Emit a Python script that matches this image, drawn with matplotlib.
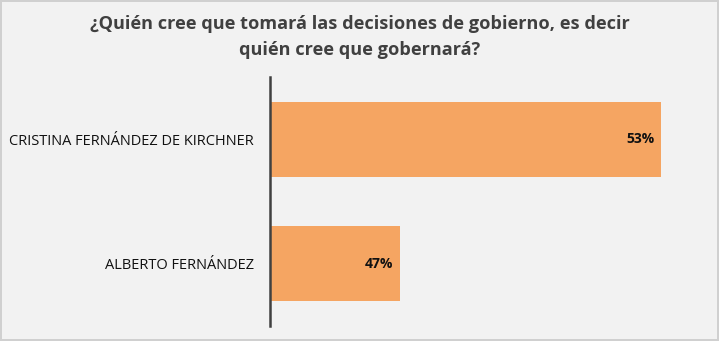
import matplotlib
matplotlib.use("Agg")
import matplotlib.pyplot as plt

categories = ["CRISTINA FERNÁNDEZ DE KIRCHNER", "ALBERTO FERNÁNDEZ"]
values = [53, 47]
value_labels = ["53%", "47%"]
title = "¿Quién cree que tomará las decisiones de gobierno, es decir\nquién cree que gobernará?"

W, H = 719, 341
fig = plt.figure(figsize=(W / 100, H / 100), dpi=100, facecolor="#f2f2f2")
fig.patch.set_edgecolor("#d0d0d0")
fig.patch.set_linewidth(1.5)

ax = fig.add_axes([270 / W, 1 - 326 / H, 435 / W, 249 / H])
ax.set_facecolor("#f2f2f2")

ypos = list(range(len(categories)))
ax.barh(ypos, values, height=0.6, left=0, color="#f5a562", edgecolor="none")
ax.set_xlim(44, 54)
ax.set_ylim(len(categories) - 0.5, -0.5)

for y, v, lab in zip(ypos, values, value_labels):
    ax.text(v - 0.16, y, lab, ha="right", va="center", fontsize=10,
            fontweight="bold", family="Open Sans", color="#111111")

ax.set_yticks(ypos)
ax.set_yticklabels(categories, family="Open Sans", fontsize=10.5, color="#111111")
ax.tick_params(axis="y", length=0, pad=11.5)
ax.set_xticks([])
for s in ["top", "right", "bottom"]:
    ax.spines[s].set_visible(False)
ax.spines["left"].set_color("#404040")
ax.spines["left"].set_linewidth(1.8)

fig.text(0.5, 1 - 37 / H, title, ha="center", va="center", fontsize=13.1,
         fontweight="bold", family="Open Sans", color="#404040", linespacing=1.6)

fig.savefig("out.png", dpi=100, facecolor=fig.get_facecolor(), edgecolor=fig.patch.get_edgecolor())
